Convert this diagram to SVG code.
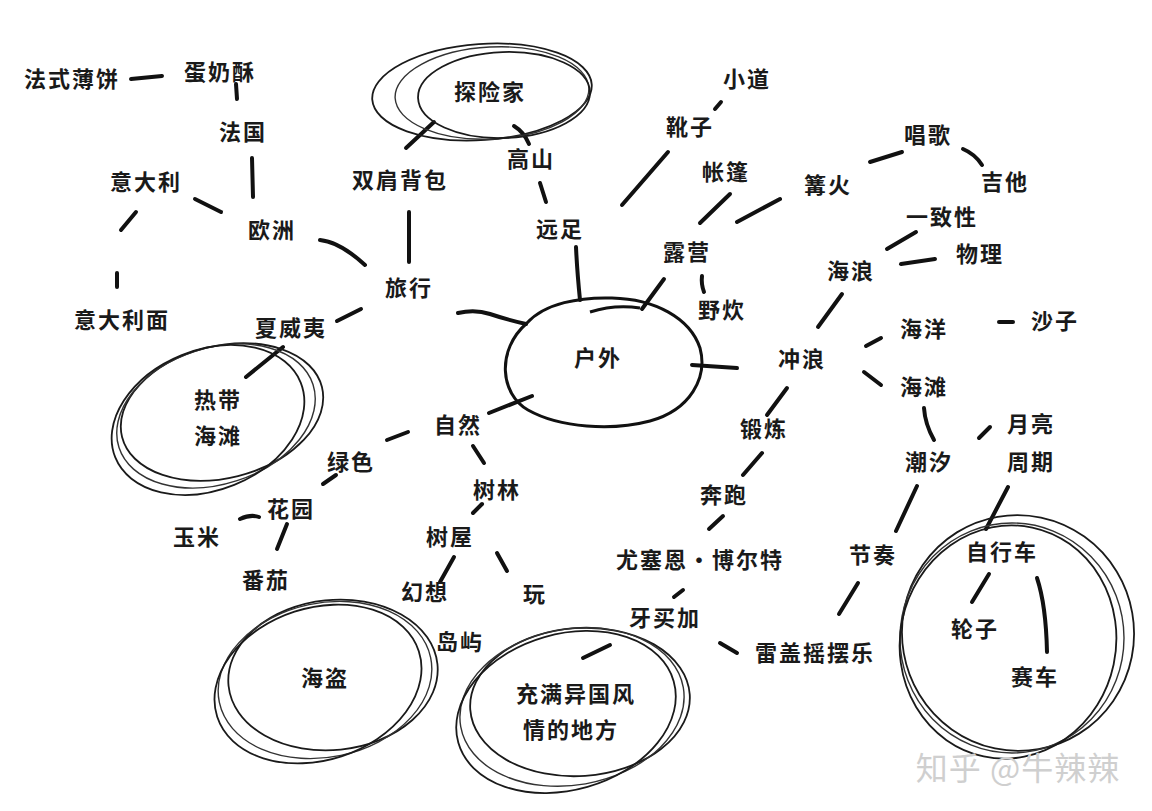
<svg xmlns="http://www.w3.org/2000/svg" width="1152" height="811" viewBox="0 0 1152 811">
<style>
text{font-family:"Noto Sans CJK SC","Noto Sans",sans-serif;font-weight:700;font-size:22px;fill:#1a1a1a;text-anchor:middle;dominant-baseline:central;letter-spacing:2px}
.ln{fill:none;stroke:#111;stroke-width:4;stroke-linecap:round;stroke-linejoin:round}
.ring{fill:none;stroke:#1a1a1a;stroke-width:1.8}
.ring2{fill:none;stroke:#333;stroke-width:1.4}
.core{fill:none;stroke:#111;stroke-width:3}
.wm{font-size:32px;fill:#cfcfcf;font-weight:400;letter-spacing:1px}
</style>
<rect width="1152" height="811" fill="#fff"/>

<g id="connectors">
<path class="ln" d="M131 79 L162 76"/>
<path class="ln" d="M236 84 L237 99"/>
<path class="ln" d="M252 158 L253 197"/>
<path class="ln" d="M195 199 L221 212"/>
<path class="ln" d="M136 212 L121 230"/>
<path class="ln" d="M117 273 L117 287"/>
<path class="ln" d="M320 240 Q340 242 365 265"/>
<path class="ln" d="M406 148 L434 122"/>
<path class="ln" d="M409 212 L409 262"/>
<path class="ln" d="M337 321 L361 309"/>
<path class="ln" d="M458 313 Q475 309 490 314 Q508 320 526 324"/>
<path class="ln" d="M514 126 Q524 132 529 144"/>
<path class="ln" d="M540 183 L546 202"/>
<path class="ln" d="M576 247 Q577 270 580 300"/>
<path class="ln" d="M721 102 L715 109"/>
<path class="ln" d="M668 152 L622 205"/>
<path class="ln" d="M730 194 L700 223"/>
<path class="ln" d="M780 199 L737 222"/>
<path class="ln" d="M870 162 L902 152"/>
<path class="ln" d="M963 149 Q975 154 982 165"/>
<path class="ln" d="M916 232 L887 249"/>
<path class="ln" d="M901 264 L935 259"/>
<path class="ln" d="M664 279 L642 309"/>
<path class="ln" d="M702 276 Q701 284 704 292"/>
<path class="ln" d="M842 294 L818 327"/>
<path class="ln" d="M692 365 L737 368"/>
<path class="ln" d="M489 413 L532 396"/>
<path class="ln" d="M866 346 L881 338"/>
<path class="ln" d="M864 372 L881 385"/>
<path class="ln" d="M999 322 L1013 322"/>
<path class="ln" d="M787 388 L767 415"/>
<path class="ln" d="M924 408 Q925 424 934 440"/>
<path class="ln" d="M990 427 L979 438"/>
<path class="ln" d="M762 453 L743 475"/>
<path class="ln" d="M917 486 L896 531"/>
<path class="ln" d="M1008 487 L986 529"/>
<path class="ln" d="M723 516 L709 529"/>
<path class="ln" d="M683 590 L674 597"/>
<path class="ln" d="M858 583 L839 614"/>
<path class="ln" d="M720 643 L737 653"/>
<path class="ln" d="M989 574 L972 602"/>
<path class="ln" d="M1037 578 Q1046 605 1047 652"/>
<path class="ln" d="M387 440 L408 432"/>
<path class="ln" d="M323 484 L336 475"/>
<path class="ln" d="M240 519 Q251 514 259 517"/>
<path class="ln" d="M287 524 L277 549"/>
<path class="ln" d="M473 446 L484 463"/>
<path class="ln" d="M482 504 L473 513"/>
<path class="ln" d="M454 557 L440 582"/>
<path class="ln" d="M497 553 L507 571"/>
<path class="ln" d="M583 658 L610 645"/>
<path class="ln" d="M246 377 L283 347"/>
</g>

<g id="n-huwai">
<path class="core" d="M527 323 C545 303 580 297 612 298 C655 299 690 318 700 348 C708 378 690 410 650 421 C612 431 560 428 528 410 C500 394 496 350 527 323 Z"/>
<path class="core" d="M590 312 Q615 304 640 308"/>
<text x="598" y="356">户外</text>
</g>

<g id="n-tanxianjia">
<ellipse class="ring" cx="482" cy="92" rx="110" ry="48" transform="rotate(-4 482 92)"/>
<ellipse class="ring2" cx="492" cy="93" rx="97" ry="46" transform="rotate(-3 492 93)"/>
<ellipse class="ring" cx="504" cy="95" rx="86" ry="43" transform="rotate(-2 504 95)"/>
<text x="490" y="90">探险家</text>
</g>

<g id="n-redai">
<ellipse class="ring" cx="222" cy="412" rx="103" ry="66" transform="rotate(-14 222 412)"/>
<ellipse class="ring2" cx="216" cy="416" rx="102" ry="68" transform="rotate(-18 216 416)"/>
<ellipse class="ring" cx="208" cy="420" rx="100" ry="70" transform="rotate(-22 208 420)"/>
<text x="218" y="398">热带</text>
<text x="218" y="434">海滩</text>
</g>

<g id="n-haidao">
<ellipse class="ring" cx="333" cy="675" rx="105" ry="75" transform="rotate(-6 333 675)"/>
<ellipse class="ring2" cx="325" cy="680" rx="108" ry="77" transform="rotate(-12 325 680)"/>
<ellipse class="ring" cx="318" cy="684" rx="106" ry="76" transform="rotate(-18 318 684)"/>
<text x="325" y="676">海盗</text>
</g>

<g id="n-chongman">
<ellipse class="ring" cx="580" cy="702" rx="110" ry="74" transform="rotate(-4 580 702)"/>
<ellipse class="ring2" cx="572" cy="707" rx="113" ry="78" transform="rotate(-10 572 707)"/>
<ellipse class="ring" cx="566" cy="712" rx="112" ry="78" transform="rotate(-16 566 712)"/>
<text x="576" y="692">充满异国风</text>
<text x="571" y="728">情的地方</text>
</g>

<g id="n-zixingche">
<ellipse class="ring" cx="1018" cy="633" rx="116" ry="118" transform="rotate(-10 1018 633)"/>
<ellipse class="ring2" cx="1012" cy="638" rx="112" ry="115"/>
<ellipse class="ring" cx="1008" cy="642" rx="108" ry="117" transform="rotate(12 1008 642)"/>
<text x="1002" y="550">自行车</text>
</g>

<g id="n-fashibobing"><text x="72" y="77">法式薄饼</text></g>
<g id="n-dannaisu"><text x="220" y="70">蛋奶酥</text></g>
<g id="n-faguo"><text x="243" y="130">法国</text></g>
<g id="n-yidali"><text x="146" y="180">意大利</text></g>
<g id="n-ouzhou"><text x="272" y="228">欧洲</text></g>
<g id="n-yidalimian"><text x="122" y="318">意大利面</text></g>
<g id="n-shuangjian"><text x="400" y="178">双肩背包</text></g>
<g id="n-gaoshan"><text x="531" y="157">高山</text></g>
<g id="n-yuanzu"><text x="560" y="227">远足</text></g>
<g id="n-lvxing"><text x="409" y="286">旅行</text></g>
<g id="n-xiaweiyi"><text x="291" y="326">夏威夷</text></g>
<g id="n-xiaodao"><text x="747" y="77">小道</text></g>
<g id="n-xuezi"><text x="690" y="125">靴子</text></g>
<g id="n-zhangpeng"><text x="726" y="170">帐篷</text></g>
<g id="n-gouhuo"><text x="828" y="183">篝火</text></g>
<g id="n-changge"><text x="928" y="133">唱歌</text></g>
<g id="n-jita"><text x="1005" y="180">吉他</text></g>
<g id="n-yizhixing"><text x="942" y="215">一致性</text></g>
<g id="n-wuli"><text x="980" y="252">物理</text></g>
<g id="n-hailang"><text x="851" y="269">海浪</text></g>
<g id="n-luying"><text x="687" y="250">露营</text></g>
<g id="n-yechui"><text x="722" y="308">野炊</text></g>
<g id="n-haiyang"><text x="924" y="327">海洋</text></g>
<g id="n-shazi"><text x="1055" y="319">沙子</text></g>
<g id="n-chonglang"><text x="802" y="357">冲浪</text></g>
<g id="n-haitan"><text x="924" y="385">海滩</text></g>
<g id="n-yueliang"><text x="1031" y="422">月亮</text><text x="1031" y="460">周期</text></g>
<g id="n-chaoxi"><text x="929" y="460">潮汐</text></g>
<g id="n-duanlian"><text x="764" y="427">锻炼</text></g>
<g id="n-ziran"><text x="458" y="423">自然</text></g>
<g id="n-lvse"><text x="351" y="460">绿色</text></g>
<g id="n-shulin"><text x="497" y="488">树林</text></g>
<g id="n-benpao"><text x="724" y="493">奔跑</text></g>
<g id="n-huayuan"><text x="291" y="507">花园</text></g>
<g id="n-yumi"><text x="197" y="535">玉米</text></g>
<g id="n-shuwu"><text x="450" y="535">树屋</text></g>
<g id="n-boerte"><text x="700" y="558">尤塞恩·博尔特</text></g>
<g id="n-jiezou"><text x="873" y="553">节奏</text></g>
<g id="n-fanqie"><text x="266" y="578">番茄</text></g>
<g id="n-huanxiang"><text x="425" y="590">幻想</text></g>
<g id="n-wan"><text x="535" y="592">玩</text></g>
<g id="n-lunzi"><text x="975" y="627">轮子</text></g>
<g id="n-yamaijia"><text x="665" y="616">牙买加</text></g>
<g id="n-daoyu"><text x="460" y="640">岛屿</text></g>
<g id="n-leigai"><text x="815" y="651">雷盖摇摆乐</text></g>
<g id="n-saiche"><text x="1035" y="675">赛车</text></g>

<text class="wm" x="1018" y="766">知乎 @牛辣辣</text>
</svg>
